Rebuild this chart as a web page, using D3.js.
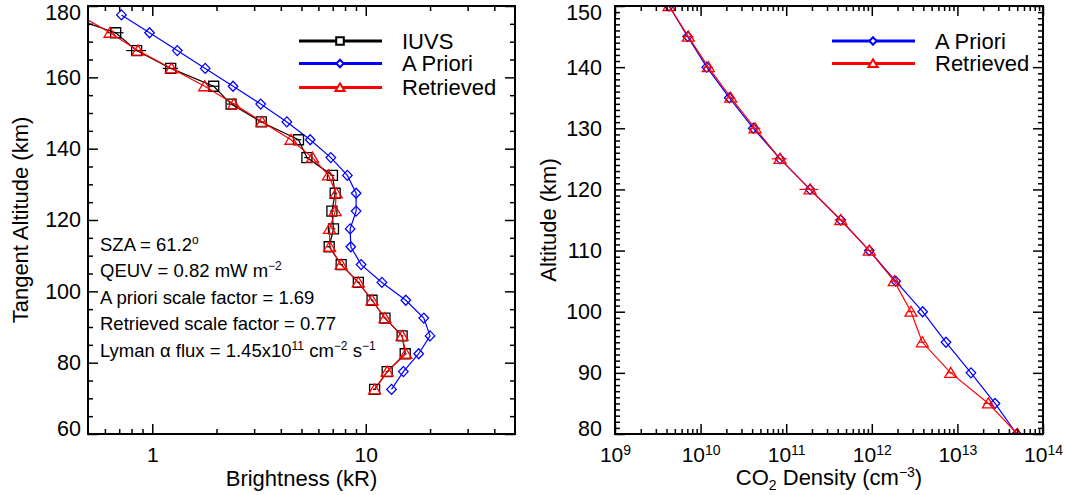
<!DOCTYPE html>
<html>
<head>
<meta charset="utf-8">
<script src="https://cdn.jsdelivr.net/npm/d3@7"></script>
<style>
  body { margin: 0; background: #fff; }
  svg { display: block; }
  text { font-family: "Liberation Sans", Arial, sans-serif; fill: #000; }
</style>
</head>
<body>
<script>
// ---- left panel: brightness profiles (kR) vs tangent altitude (km)
const tangentAlt = [177.5, 172.5, 167.5, 162.5, 157.5, 152.5, 147.5, 142.5, 137.5, 132.5, 127.5,
                    122.5, 117.5, 112.5, 107.5, 102.5, 97.5, 92.5, 87.5, 82.5, 77.5, 72.5]
const iuvsBright = [0.38, 0.674, 0.845, 1.22, 1.94, 2.34, 3.24, 4.84, 5.30, 6.98, 7.19,
                    6.94, 7.06, 6.74, 7.67, 9.23, 10.7, 12.3, 14.8, 15.3, 12.6, 11.0]
const iuvsErr = [0.03, 0.06, 0.09, 0.10, 0.12, 0.10, 0.12, 0.15, 0.15, 0.15, 0.15,
                 0.15, 0.15, 0.15, 0.15, 0.15, 0.15, 0.2, 0.2, 0.2, 0.2, 0.2]
const aprioriBright = [0.717, 0.971, 1.31, 1.77, 2.39, 3.22, 4.27, 5.49, 6.86, 8.20, 9.01,
                       9.01, 8.45, 8.51, 9.51, 11.9, 15.4, 18.7, 20.0, 17.7, 15.0, 13.2]
const retrievedBright = [0.455, 0.634, 0.857, 1.23, 1.76, 2.41, 3.27, 4.46, 5.63, 6.69, 7.27,
                         7.19, 6.77, 6.77, 7.67, 9.23, 10.7, 12.3, 14.8, 15.4, 12.6, 11.0]

// ---- right panel: CO2 density (cm^-3) vs altitude (km)
const densityAlt = [150, 145, 140, 135, 130, 125, 120, 115, 110, 105, 100, 95, 90, 85, 80]
const aprioriDensity = [4.28e9, 7.06e9, 1.18e10, 2.16e10, 4.13e10, 8.47e10, 1.90e11, 4.34e11,
                        9.35e11, 1.90e12, 3.93e12, 7.36e12, 1.44e13, 2.75e13, 4.93e13]
const retrievedDensity = [4.28e9, 7.19e9, 1.23e10, 2.25e10, 4.33e10, 8.47e10, 1.90e11, 4.34e11,
                          9.35e11, 1.83e12, 2.87e12, 3.89e12, 8.36e12, 2.30e13, 5.01e13]
const retrievedDensityErr = [0.03, 0.15, 0.12, 0.1, 0.15, 0.2, 0.25, 0.15, 0.1, 0.08, 0.08, 0.08, 0.08, 0.12, 0.18]

// ---- ticks
const leftXMajor = [1, 10]
const leftXMinor = [0.6, 0.7, 0.8, 0.9, 2, 3, 4, 5, 6, 7, 8, 9, 20, 30, 40]
const leftYMajor = [60, 80, 100, 120, 140, 160, 180]
const leftYMinor = [65, 70, 75, 85, 90, 95, 105, 110, 115, 125, 130, 135, 145, 150, 155, 165, 170, 175]
const rightXMajor = [1e9, 1e10, 1e11, 1e12, 1e13, 1e14]
const rightYMajor = [80, 90, 100, 110, 120, 130, 140, 150]

const annotation = [
  [["SZA = 61.2", 0], ["o", 1]],
  [["QEUV = 0.82 mW m", 0], ["\u22122", 1]],
  [["A priori scale factor = 1.69", 0]],
  [["Retrieved scale factor = 0.77", 0]],
  [["Lyman \u03b1 flux = 1.45x10", 0], ["11", 1], [" cm", 0], ["\u22122", 1], [" s", 0], ["\u22121", 1]]
]

const width = 1065, height = 495
const svg = d3.select("body").append("svg")
  .attr("width", width)
  .attr("height", height)

const leftBox = {x0: 88, x1: 515, y0: 6, y1: 434}
const rightBox = {x0: 615, x1: 1043, y0: 6, y1: 434}

// marker shapes
const markers = {
  square: s => `M${-s},${-s}h${2*s}v${2*s}h${-2*s}Z`,
  diamond: s => `M0,${-s}L${s*0.95},0L0,${s}L${-s*0.95},0Z`,
  triangle: s => `M0,${-s*1.1}L${s*1.2},${s*0.9}L${-s*1.2},${s*0.9}Z`
}

// frame + inward ticks on all four sides
function drawFrame(g, box, xs, ys, xMajor, xMinor, yMajor, yMinor, xPad, yPad) {
  const axes = g.append("g").attr("class", "axes")
  const style = sel => {
    sel.select(".domain").remove()
    sel.selectAll("line").attr("stroke", "#000").attr("stroke-width", 1.5)
    sel.selectAll("text").style("font-size", "21px").attr("fill", "#000")
      .style("font-family", '"Liberation Sans", Arial, sans-serif')
  }
  // bottom with labels
  axes.append("g").attr("transform", `translate(0,${box.y1})`)
    .call(d3.axisBottom(xs).tickValues(xMajor).tickSize(-10).tickPadding(xPad).tickFormat(d3.format("")))
    .call(style).attr("class", "x-labels")
  axes.append("g").attr("transform", `translate(0,${box.y1})`)
    .call(d3.axisBottom(xs).tickValues(xMinor).tickSize(-5).tickFormat("")).call(style)
  axes.append("g").attr("transform", `translate(0,${box.y0})`)
    .call(d3.axisTop(xs).tickValues(xMajor).tickSize(-10).tickFormat("")).call(style)
  axes.append("g").attr("transform", `translate(0,${box.y0})`)
    .call(d3.axisTop(xs).tickValues(xMinor).tickSize(-5).tickFormat("")).call(style)
  // left with labels
  const yl = axes.append("g").attr("transform", `translate(${box.x0},0)`)
    .call(d3.axisLeft(ys).tickValues(yMajor).tickSize(-10).tickPadding(yPad)).call(style)
  const yDom = ys.domain()
  yl.selectAll("text").attr("y", d => d === yDom[1] ? 7 : d === yDom[0] ? -5 : 0)
    .style("font-size", "21.5px")
  axes.append("g").attr("transform", `translate(${box.x0},0)`)
    .call(d3.axisLeft(ys).tickValues(yMinor).tickSize(-5).tickFormat("")).call(style)
  axes.append("g").attr("transform", `translate(${box.x1},0)`)
    .call(d3.axisRight(ys).tickValues(yMajor).tickSize(-10).tickFormat("")).call(style)
  axes.append("g").attr("transform", `translate(${box.x1},0)`)
    .call(d3.axisRight(ys).tickValues(yMinor).tickSize(-5).tickFormat("")).call(style)

  g.append("rect")
    .attr("x", box.x0).attr("y", box.y0)
    .attr("width", box.x1 - box.x0).attr("height", box.y1 - box.y0)
    .attr("fill", "none").attr("stroke", "#000").attr("stroke-width", 2)
  return axes
}

function clipFor(id, box) {
  svg.append("clipPath").attr("id", id)
    .append("rect")
    .attr("x", box.x0).attr("y", box.y0)
    .attr("width", box.x1 - box.x0).attr("height", box.y1 - box.y0)
}

function drawSeries(g, xs, ys, alts, vals, color, shape, size, errs) {
  const pts = alts.map((a, i) => ({a: a, v: vals[i], e: errs ? errs[i] : 0}))
  const line = d3.line().x(d => xs(d.v)).y(d => ys(d.a))
  g.append("path")
    .attr("d", line(pts))
    .attr("fill", "none")
    .attr("stroke", color)
    .attr("stroke-width", 1.2)
  if (errs) {
    g.selectAll(null).data(pts).enter().append("line")
      .attr("x1", d => xs(d.v * (1 - d.e)))
      .attr("x2", d => xs(d.v * (1 + d.e)))
      .attr("y1", d => ys(d.a)).attr("y2", d => ys(d.a))
      .attr("stroke", color).attr("stroke-width", 1.2)
  }
  g.selectAll(null).data(pts).enter().append("path")
    .attr("d", markers[shape](size))
    .attr("transform", d => `translate(${xs(d.v)},${ys(d.a)})`)
    .attr("fill", "none")
    .attr("stroke", color)
    .attr("stroke-width", 1.3)
}

function drawLegend(g, items, lx0, lx1, mx, tx, ys) {
  items.forEach((it, i) => {
    const y = ys[i]
    g.append("line").attr("x1", lx0).attr("x2", lx1).attr("y1", y).attr("y2", y)
      .attr("stroke", it.color).attr("stroke-width", 3)
    g.append("path").attr("d", markers[it.shape](it.size))
      .attr("transform", `translate(${mx},${y})`)
      .attr("fill", "#fff").attr("stroke", it.color).attr("stroke-width", 2)
    g.append("text").attr("x", tx).attr("y", y + 7.5)
      .style("font-size", "22px").text(it.name)
  })
}

// ================= left panel
const xLeft = d3.scaleLog().domain([0.5, 50]).range([leftBox.x0, leftBox.x1])
const yLeft = d3.scaleLinear().domain([60, 180]).range([leftBox.y1, leftBox.y0])
clipFor("clipLeft", leftBox)

const leftG = svg.append("g").attr("id", "left_panel")
const leftData = leftG.append("g").attr("clip-path", "url(#clipLeft)")
drawSeries(leftData, xLeft, yLeft, tangentAlt, aprioriBright, "#0000ff", "diamond", 5)
drawSeries(leftData, xLeft, yLeft, tangentAlt, iuvsBright, "#000", "square", 5,
  iuvsErr.map((e, i) => e / iuvsBright[i]))
drawSeries(leftData, xLeft, yLeft, tangentAlt, retrievedBright, "#ff0000", "triangle", 5)
drawFrame(leftG, leftBox, xLeft, yLeft, leftXMajor, leftXMinor, leftYMajor, leftYMinor, 13, 7)

drawLegend(leftG, [
  {name: "IUVS", color: "#000", shape: "square", size: 3.8},
  {name: "A Priori", color: "#0000ff", shape: "diamond", size: 3.8},
  {name: "Retrieved", color: "#ff0000", shape: "triangle", size: 3.8}
], 299, 382, 340, 402, [41, 63.5, 87.5])

// annotation block
annotation.forEach((parts, i) => {
  const t = leftG.append("text")
    .attr("x", 100)
    .attr("y", 250.7 + i * 26.5)
    .style("font-size", "18.5px")
  let raised = false
  parts.forEach(p => {
    const sup = p[1] === 1
    const ts = t.append("tspan").text(p[0])
    if (sup && !raised) { ts.attr("dy", -7).style("font-size", "12px"); raised = true }
    else if (!sup && raised) { ts.attr("dy", 7); raised = false }
    else if (sup) ts.style("font-size", "12px")
  })
})

leftG.append("text")
  .attr("x", (leftBox.x0 + leftBox.x1) / 2).attr("y", 486)
  .attr("text-anchor", "middle").style("font-size", "22px")
  .text("Brightness (kR)")
leftG.append("text")
  .attr("transform", `translate(28,${(leftBox.y0 + leftBox.y1) / 2}) rotate(-90)`)
  .attr("text-anchor", "middle").style("font-size", "22px")
  .text("Tangent Altitude (km)")

// ================= right panel
const xRight = d3.scaleLog().domain([1e9, 1e14]).range([rightBox.x0, rightBox.x1])
const yRight = d3.scaleLinear().domain([80, 150]).range([rightBox.y1, rightBox.y0])
clipFor("clipRight", rightBox)
const rightXMinor = []
rightXMajor.slice(0, -1).forEach(p => { for (let k = 2; k <= 9; k++) rightXMinor.push(p * k) })
const rightYMinor = d3.range(80, 151, 1).filter(d => d % 10 !== 0)

const rightG = svg.append("g").attr("id", "right_panel")
const rightData = rightG.append("g").attr("clip-path", "url(#clipRight)")
drawSeries(rightData, xRight, yRight, densityAlt, aprioriDensity, "#0000ff", "diamond", 5)
drawSeries(rightData, xRight, yRight, densityAlt, retrievedDensity, "#ff0000", "triangle", 5, retrievedDensityErr)
const rAxes = drawFrame(rightG, rightBox, xRight, yRight, rightXMajor, rightXMinor, rightYMajor, rightYMinor, 13, 13)

// power-of-ten tick labels
rAxes.select(".x-labels").selectAll("text").each(function(d) {
  const t = d3.select(this)
  t.text(null)
  t.append("tspan").text("10")
  t.append("tspan").attr("dy", -7).style("font-size", "14px").text(Math.round(Math.log10(d)))
})

drawLegend(rightG, [
  {name: "A Priori", color: "#0000ff", shape: "diamond", size: 3.8},
  {name: "Retrieved", color: "#ff0000", shape: "triangle", size: 3.8}
], 832, 915, 873, 935, [41, 63.5])

const xl = rightG.append("text")
  .attr("x", (rightBox.x0 + rightBox.x1) / 2).attr("y", 485)
  .attr("text-anchor", "middle").style("font-size", "22px")
xl.append("tspan").text("CO")
xl.append("tspan").attr("dy", 5).style("font-size", "14px").text("2")
xl.append("tspan").attr("dy", -5).text(" Density (cm")
xl.append("tspan").attr("dy", -8).style("font-size", "14px").text("\u22123")
xl.append("tspan").attr("dy", 8).text(")")

rightG.append("text")
  .attr("transform", `translate(556,${(rightBox.y0 + rightBox.y1) / 2}) rotate(-90)`)
  .attr("text-anchor", "middle").style("font-size", "22px")
  .text("Altitude (km)")
</script>
</body>
</html>
